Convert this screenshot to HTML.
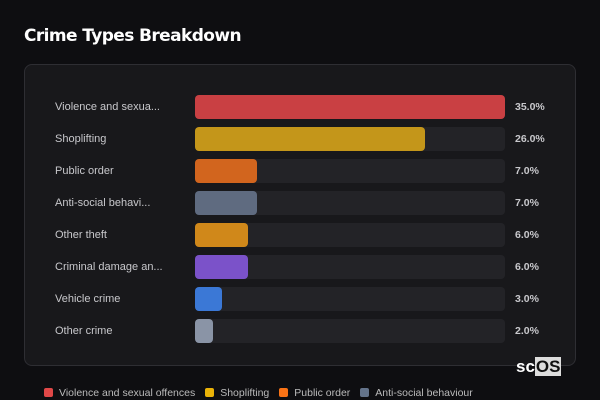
<!DOCTYPE html>
<html><head><meta charset="utf-8"><style>
body{margin:0;width:600px;height:400px;background:#0e0e11;font-family:"Liberation Sans",sans-serif;overflow:hidden;position:relative}
#title{position:absolute;left:24px;top:26px;color:#fff;font-size:17px;font-weight:bold;font-family:"DejaVu Sans",sans-serif;letter-spacing:-0.6px}
#card{position:absolute;left:24px;top:64px;width:550px;height:300px;background:#18181b;border:1px solid #2e2e33;border-radius:8px}
.lbl{position:absolute;left:55px;font-size:11px;color:#c8c8cc}
.val{position:absolute;left:515px;font-size:10.5px;font-weight:bold;color:#c8c8cc}
.track{position:absolute;left:195px;width:310px;height:24px;background:#232327;border-radius:4px}
.bar{position:absolute;left:195px;height:24px;border-radius:4px}
#legend{position:absolute;left:44px;top:387px;font-size:10.5px;color:#bbb;white-space:nowrap}
.li{display:inline-block;margin-right:10px}
.sw{display:inline-block;width:9px;height:9px;border-radius:2px;margin-right:6px;vertical-align:-1px}
#logo{position:absolute;left:516px;top:357px;font-size:17px;font-weight:bold;color:#fff}
#logo span{background:#ddd;color:#111;padding:0 1px}
</style></head><body>
<div id="title">Crime Types Breakdown</div>
<div id="card"></div>
<div id="rows"></div>
<div id="legend"></div>
<div id="logo">sc<span>OS</span></div>
<script>
const categories=["Violence and sexua...","Shoplifting","Public order","Anti-social behavi...","Other theft","Criminal damage an...","Vehicle crime","Other crime"];
const values=[35,26,7,7,6,6,3,2];
const colors=["#c94043","#c4961a","#d2651e","#5f6b80","#d0881a","#7b52c9","#3b78d6","#8a94a6"];
const legendLabels=["Violence and sexual offences","Shoplifting","Public order","Anti-social behaviour"];
const legendColors=["#e04848","#eab308","#f97316","#64748b"];
const maxV=Math.max(...values);
function xw(v){return v/maxV*310;}
function yc(i){return 107+i*32;}
const rows=document.getElementById('rows');
categories.forEach((c,i)=>{
  const l=document.createElement('div');l.className='lbl';l.textContent=c;l.style.top=(yc(i)-6)+'px';
  
  
  rows.appendChild(l);
  const t=document.createElement('div');t.className='track';t.style.top=(yc(i)-12)+'px';
  
  
  rows.appendChild(t);
  const b=document.createElement('div');b.className='bar';b.style.top=(yc(i)-12)+'px';b.style.width=xw(values[i])+'px';b.style.background=colors[i];
  
  
  rows.appendChild(b);
  const v=document.createElement('div');v.className='val';v.textContent=values[i].toFixed(1)+'%';v.style.top=(yc(i)-6)+'px';
  
  
  rows.appendChild(v);
});
const lg=document.getElementById('legend');
legendLabels.forEach((n,i)=>{
  const e=document.createElement('span');e.className='li';
  
  
  e.innerHTML='<span class="sw" style="background:'+legendColors[i]+'"></span>'+n;
  lg.appendChild(e);
});
</script>
</body></html>
